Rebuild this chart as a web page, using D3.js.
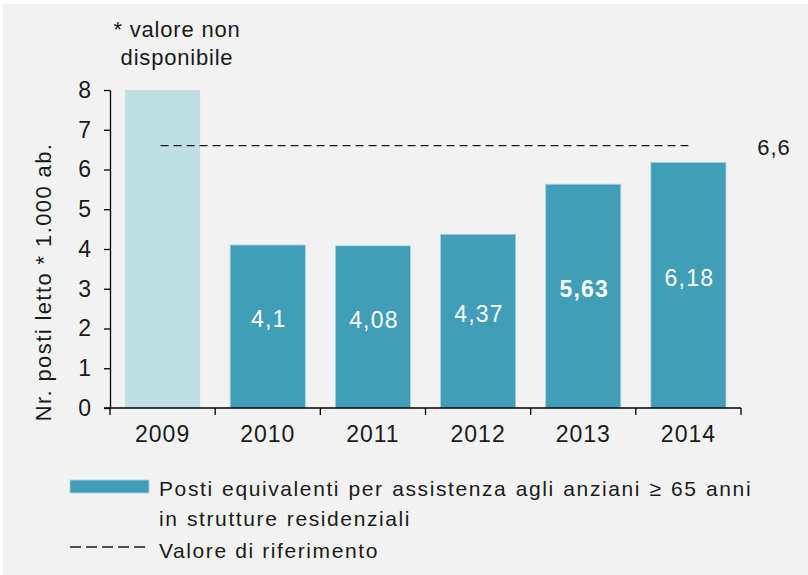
<!DOCTYPE html>
<html>
<head>
<meta charset="utf-8">
<script src="https://cdn.jsdelivr.net/npm/d3@7"></script>
<style>
  html, body { margin: 0; padding: 0; background: #ffffff; }
  svg { display: block; font-family: "Liberation Sans", Arial, sans-serif; }
  .axis path, .axis line { stroke: #000; stroke-width: 1.3; }
  .axis text { fill: #1a1a1a; font-size: 23px; letter-spacing: 1px; }
</style>
</head>
<body>
<svg id="chart" width="808" height="575"></svg>
<script>
// data
var years = ['2009', '2010', '2011', '2012', '2013', '2014'];
var values = [8, 4.1, 4.08, 4.37, 5.63, 6.18];
var labels = ['', '4,1', '4,08', '4,37', '5,63', '6,18'];
var available = [false, true, true, true, true, true];
var yTicks = [0, 1, 2, 3, 4, 5, 6, 7, 8];
var refValue = 6.6;
var refLabel = '6,6';
var legendLines = ['Posti equivalenti  per assistenza agli anziani \u2265 65 anni', 'in strutture residenziali'];

var svg = d3.select('#chart');
var W = 808, H = 575;

// background panel
svg.append('rect')
  .attr('x', 3).attr('y', 4)
  .attr('width', W - 3).attr('height', H - 4)
  .attr('fill', '#f2f2f2');

var plot = { left: 110, right: 741, top: 90, bottom: 408 };

var x = d3.scaleBand()
  .domain(years)
  .range([plot.left, plot.right])
  .paddingInner(0.2857)
  .paddingOuter(0.1429);

var y = d3.scaleLinear()
  .domain([0, 8])
  .range([plot.bottom, plot.top]);

var data = years.map(function(yr, i) {
  return { year: yr, value: values[i], label: labels[i], ok: available[i] };
});

// bars
svg.append('g').selectAll('rect').data(data)
  .enter().append('rect')
    .attr('x', function(d) { return x(d.year); })
    .attr('y', function(d) { return y(d.value); })
    .attr('width', x.bandwidth())
    .attr('height', function(d) { return y(0) - y(d.value); })
    .attr('fill', function(d) { return d.ok ? '#409eb8' : '#c0dfe4'; })
    .attr('stroke', function(d) { return d.ok ? '#a9d3df' : 'none'; })
    .attr('stroke-width', 0.8);

// value labels inside bars
svg.append('g').selectAll('text').data(data.filter(function(d) { return d.ok; }))
  .enter().append('text')
    .attr('x', function(d) { return x(d.year) + x.bandwidth() / 2 + 1; })
    .attr('y', function(d) { return y(d.value / 2) - 6; })
    .attr('dy', '0.3em')
    .attr('text-anchor', 'middle')
    .attr('fill', '#ffffff')
    .attr('font-size', '23px')
    .attr('letter-spacing', '1.2px')
    .attr('font-weight', function(d) { return d.year === '2013' ? 'bold' : 'normal'; })
    .text(function(d) { return d.label; });

// reference line (dashed), from first to last category centre
svg.append('line')
  .attr('x1', x(years[0]) + x.bandwidth() / 2 - 2)
  .attr('x2', x(years[years.length - 1]) + x.bandwidth() / 2)
  .attr('y1', y(refValue))
  .attr('y2', y(refValue))
  .attr('stroke', '#1a1a1a')
  .attr('stroke-width', 1.3)
  .attr('stroke-dasharray', '8,5');

svg.append('text')
  .attr('x', 774)
  .attr('y', y(refValue) + 9)
  .attr('text-anchor', 'middle')
  .attr('font-size', '22px')
  .attr('letter-spacing', '1px')
  .attr('fill', '#1a1a1a')
  .text(refLabel);

// y axis
svg.append('g')
  .attr('class', 'axis')
  .attr('transform', 'translate(' + plot.left + ',0)')
  .call(d3.axisLeft(y).tickValues(yTicks).tickSize(6).tickSizeOuter(0).tickPadding(12)
    .tickFormat(d3.format('d')));

// x axis: labels at band centres, ticks at band edges
var xAxis = svg.append('g')
  .attr('class', 'axis')
  .attr('transform', 'translate(0,' + plot.bottom + ')')
  .call(d3.axisBottom(x).tickSize(0).tickPadding(18));
xAxis.select('.domain').attr('d', 'M' + (plot.left - 6) + ',0H' + plot.right);

var edges = years.map(function(yr) { return x(yr) - x.step() * x.paddingOuter(); });
edges.push(plot.right);
xAxis.selectAll('line.edge').data(edges)
  .enter().append('line')
    .attr('class', 'edge')
    .attr('x1', function(d) { return d; })
    .attr('x2', function(d) { return d; })
    .attr('y1', 0)
    .attr('y2', 7);

// y axis title
svg.append('text')
  .attr('transform', 'translate(51,282) rotate(-90)')
  .attr('text-anchor', 'middle')
  .attr('font-size', '22px')
  .attr('letter-spacing', '1.4px')
  .attr('fill', '#1a1a1a')
  .text('Nr. posti letto * 1.000 ab.');

// annotation over the 2009 bar
var note = svg.append('text')
  .attr('text-anchor', 'middle')
  .attr('font-size', '22px')
  .attr('letter-spacing', '0.8px')
  .attr('fill', '#1a1a1a');
note.append('tspan').attr('x', 177).attr('y', 37).text('* valore non');
note.append('tspan').attr('x', 177).attr('y', 65).text('disponibile');

// legend
var lg = svg.append('g');
lg.append('rect')
  .attr('x', 70).attr('y', 480)
  .attr('width', 79).attr('height', 13)
  .attr('fill', '#409eb8')
  .attr('stroke', '#a9d3df')
  .attr('stroke-width', 0.8);
var lt = lg.append('text')
  .attr('font-size', '21px')
  .attr('letter-spacing', '1.6px')
  .attr('word-spacing', '1px')
  .attr('fill', '#1a1a1a');
legendLines.forEach(function(s, i) {
  lt.append('tspan').attr('x', 159).attr('y', 496 + i * 30).text(s);
});
lg.append('line')
  .attr('x1', 70).attr('x2', 149)
  .attr('y1', 547).attr('y2', 547)
  .attr('stroke', '#1a1a1a')
  .attr('stroke-width', 1.3)
  .attr('stroke-dasharray', '11,5');
lg.append('text')
  .attr('x', 159).attr('y', 558)
  .attr('font-size', '21px')
  .attr('letter-spacing', '1.6px')
  .attr('fill', '#1a1a1a')
  .text('Valore di riferimento');
</script>
</body>
</html>
